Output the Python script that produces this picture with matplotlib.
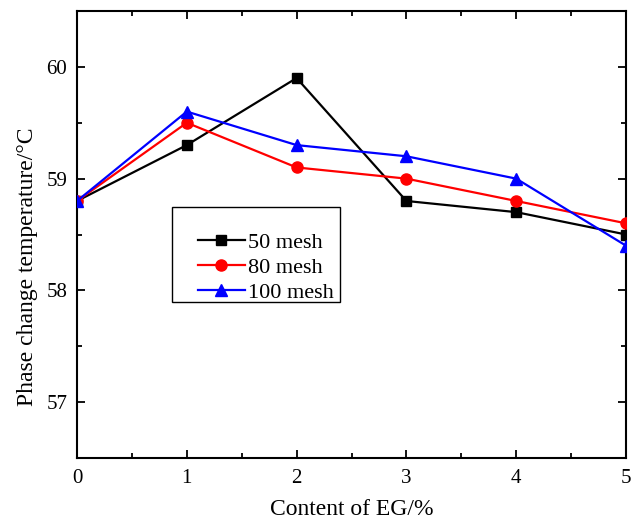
import matplotlib.pyplot as plt
from matplotlib.patches import Rectangle
from matplotlib.ticker import MultipleLocator

plt.rcParams['font.family'] = ['Liberation Serif', 'DejaVu Serif']

eg = [0, 1, 2, 3, 4, 5]
mesh50 = [58.8, 59.3, 59.9, 58.8, 58.7, 58.5]
mesh80 = [58.8, 59.5, 59.1, 59.0, 58.8, 58.6]
mesh100 = [58.8, 59.6, 59.3, 59.2, 59.0, 58.4]

fig = plt.figure(figsize=(6.37, 5.2), dpi=100)
ax = fig.add_axes([77 / 637, 1 - 458 / 520, 549 / 637, 447 / 520])

ax.plot(eg, mesh50, color='black', marker='s', ms=7, lw=1.6, label='50 mesh', zorder=3)
ax.plot(eg, mesh80, color='red', marker='o', ms=8, lw=1.6, label='80 mesh', zorder=3)
ax.plot(eg, mesh100, color='blue', marker='^', ms=8.5, lw=1.6, label='100 mesh', zorder=3)

ax.set_xlim(0, 5)
ax.set_ylim(56.5, 60.5)
ax.xaxis.set_major_locator(MultipleLocator(1))
ax.xaxis.set_minor_locator(MultipleLocator(0.5))
ax.yaxis.set_major_locator(MultipleLocator(1))
ax.yaxis.set_minor_locator(MultipleLocator(0.5))
ax.tick_params(which='both', direction='in', top=True, right=True, labelsize=15, width=1.3)
ax.tick_params(which='major', length=6)
ax.tick_params(which='minor', length=3.5)
ax.tick_params(axis='x', which='major', pad=8)
ax.tick_params(axis='y', which='major', pad=7)
for s in ax.spines.values():
    s.set_linewidth(1.5)

ax.set_xlabel('Content of EG/%', fontsize=17, labelpad=8)
ax.set_ylabel('Phase change temperature/°C', fontsize=17)
ax.yaxis.set_label_coords(-0.071, 0.427)

# legend box with extra room above the entries
fig.patches.append(Rectangle((172 / 637, 1 - 302 / 520), 168 / 637, 95 / 520,
                             transform=fig.transFigure, fill=False,
                             edgecolor='black', lw=1.0, zorder=5))
leg = ax.legend(loc='center left', bbox_to_anchor=(198 / 637, 1 - 268 / 520),
                bbox_transform=fig.transFigure, fontsize=16, frameon=False,
                handlelength=2.1, handletextpad=0.15, borderpad=0,
                borderaxespad=0, labelspacing=0.2)

fig.savefig('out.png', dpi=100)
